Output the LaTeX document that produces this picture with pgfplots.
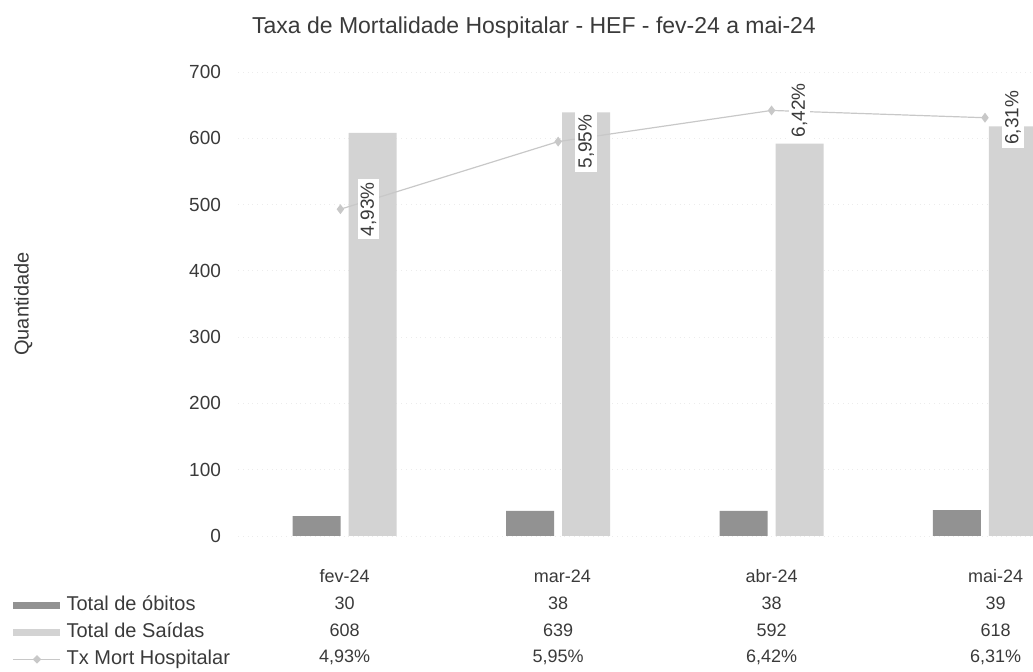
\documentclass[border=0pt]{standalone}
\usepackage{pgfplots}
\pgfplotsset{compat=1.18}
\usepackage{fontspec}
\setmainfont{Liberation Sans}
\definecolor{obitos}{HTML}{929292}
\definecolor{saidas}{HTML}{D3D3D3}
\definecolor{txline}{HTML}{C8C8C8}
\definecolor{txt}{HTML}{3A3A3A}
\begin{document}
\begin{tikzpicture}[font=\fontsize{9.5}{11}\selectfont]
\useasboundingbox (-119pt,-68pt) rectangle (397.5pt,268pt);
\begin{axis}[
  at={(0,0)}, anchor=south west,
  scale only axis, width=397.5pt, height=232pt,
  xmin=-0.5, xmax=3.225, ymin=0, ymax=700,
  ytick={0,100,...,700},
  xtick=\empty,
  axis line style={draw=none},
  major tick style={draw=none},
  ymajorgrids, grid style={gray!15, dotted},
  yticklabel style={xshift=-5pt, font=\fontsize{9.5}{10}\selectfont, text=txt},
  /pgf/number format/assume math mode=true,
  ylabel={Quantidade},
  ylabel style={at={(axis description cs:-0.27,0.5)}, anchor=center, text=txt, font=\fontsize{10}{11}\selectfont},
  clip mode=individual,
  legend style={at={(axis description cs:0,0)}, anchor=north west,
    xshift=-113pt, yshift=-30pt, draw=none, fill=none,
    font=\fontsize{10}{11}\selectfont, text=txt,
    row sep=4.5pt, column sep=3pt, inner sep=0pt,
    nodes={inner sep=0pt, text height=7pt, text depth=2pt, anchor=west}},
  legend cell align=left,
]
\addplot[ybar, bar width=24pt, bar shift=-14pt, fill=obitos, draw=none,
  legend image code/.code={\fill[obitos] (0pt,-1.75pt) rectangle (23.5pt,1.75pt);}]
  coordinates {(0,30) (1,38) (2,38) (3,39)};
\addlegendentry{Total de óbitos}
\addplot[ybar, bar width=24pt, bar shift=14pt, fill=saidas, draw=none,
  legend image code/.code={\fill[saidas] (0pt,-1.75pt) rectangle (23.5pt,1.75pt);}]
  coordinates {(0,608) (1,639) (2,592) (3,618)};
\addlegendentry{Total de Saídas}
\addlegendimage{legend image code/.code={\draw[txline, line width=0.6pt] (0pt,0pt) -- (23.5pt,0pt); \fill[txline] (12pt,0pt) +(-1.8pt,0) -- +(0,1.8pt) -- +(1.8pt,0) -- +(0,-1.8pt) -- cycle;}}
\addlegendentry{Tx Mort Hospitalar}
% data table
\begin{scope}[every node/.style={text=txt, font=\fontsize{9}{11}\selectfont}]
\node at (axis cs:0,0) [yshift=-20pt] {fev-24};
\node at (axis cs:1.02,0) [yshift=-20pt] {mar-24};
\node at (axis cs:2.0,0) [yshift=-20pt] {abr-24};
\node at (axis cs:3.05,0) [yshift=-20pt] {mai-24};
\node at (axis cs:0,0) [yshift=-33.5pt] {30};
\node at (axis cs:1.0,0) [yshift=-33.5pt] {38};
\node at (axis cs:2.0,0) [yshift=-33.5pt] {38};
\node at (axis cs:3.05,0) [yshift=-33.5pt] {39};
\node at (axis cs:0,0) [yshift=-47pt] {608};
\node at (axis cs:1.0,0) [yshift=-47pt] {639};
\node at (axis cs:2.0,0) [yshift=-47pt] {592};
\node at (axis cs:3.05,0) [yshift=-47pt] {618};
\node at (axis cs:0,0) [yshift=-60.5pt] {4,93\%};
\node at (axis cs:1.0,0) [yshift=-60.5pt] {5,95\%};
\node at (axis cs:2.0,0) [yshift=-60.5pt] {6,42\%};
\node at (axis cs:3.05,0) [yshift=-60.5pt] {6,31\%};
\end{scope}
\end{axis}
\begin{axis}[
  at={(0,0)}, anchor=south west,
  scale only axis, width=397.5pt, height=232pt,
  xmin=-0.5, xmax=3.225, ymin=0, ymax=7,
  hide axis, clip=false,
  /pgf/number format/assume math mode=true,
]
\addplot[txline, line width=0.6pt, mark=diamond*, mark size=2pt,
  mark options={fill=txline, draw=txline},
  nodes near coords={\pgfmathprintnumber[fixed,precision=2,fixed zerofill,use comma,assume math mode=true]{\pgfplotspointmeta}\%},
  nodes near coords style={xshift=14pt, rotate=90, anchor=center, fill=white,
    inner sep=1.5pt, text=txt, font=\fontsize{9.5}{11}\selectfont}]
  coordinates {(-0.02,4.93) (1,5.95) (2,6.42) (3,6.31)};
\end{axis}
\node[text=txt, font=\fontsize{11.5}{13}\selectfont] at (148pt,254pt) {Taxa de Mortalidade Hospitalar - HEF - fev-24 a mai-24};
\end{tikzpicture}
\end{document}
